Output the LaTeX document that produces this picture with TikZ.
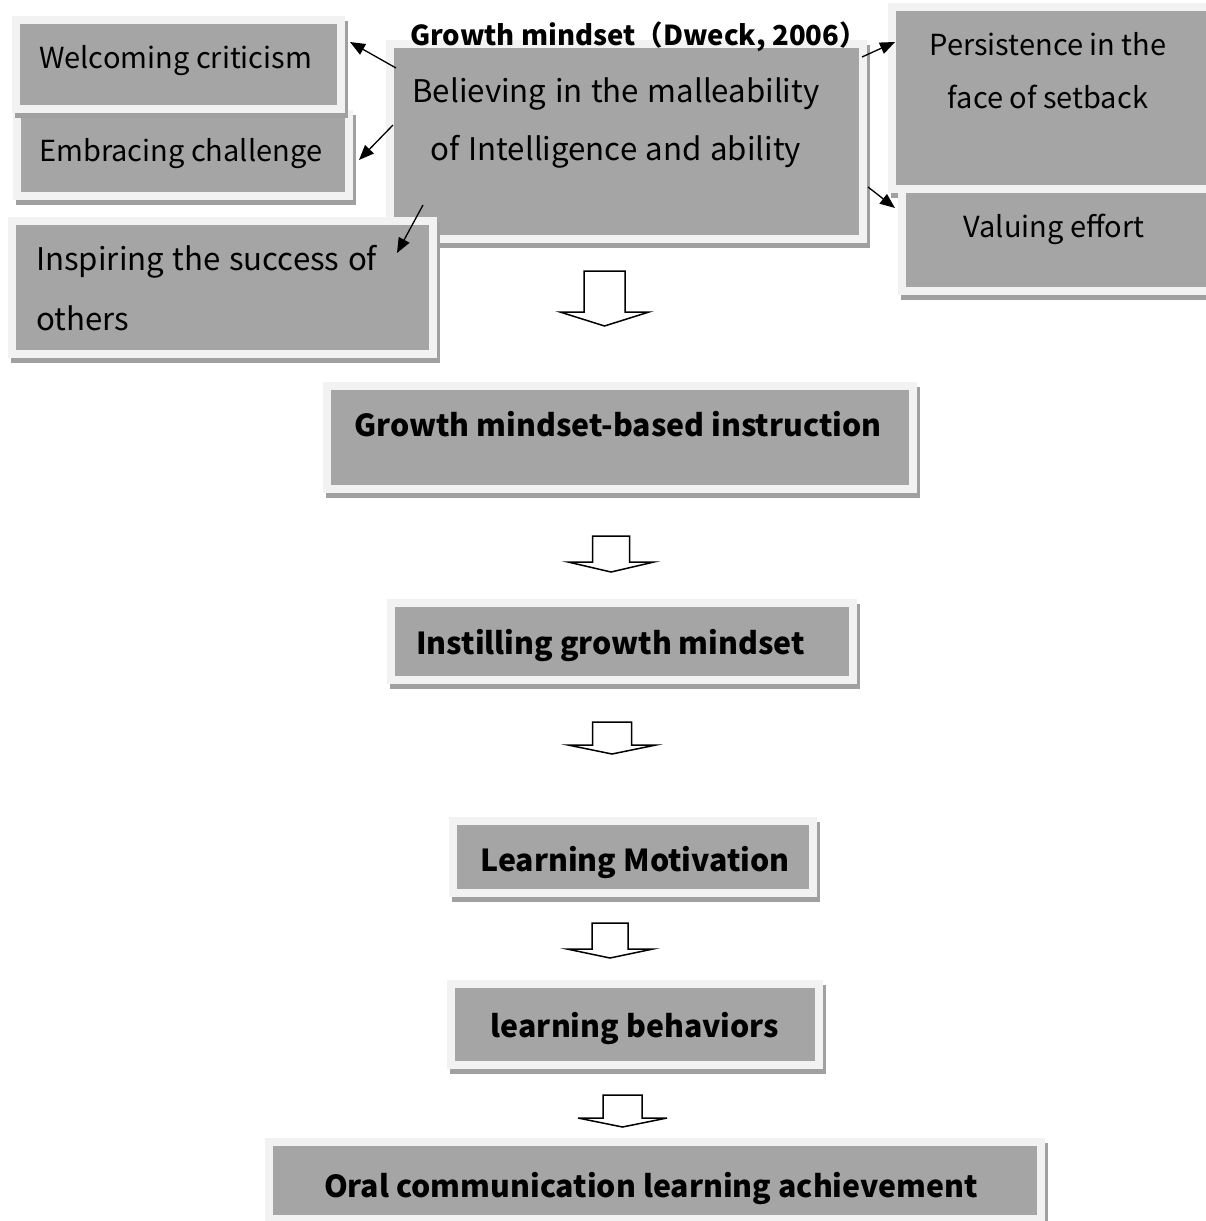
\documentclass[tikz,border=0pt]{standalone}
\usepackage{fontspec}
\setmainfont{Noto Sans CJK JP}
\usetikzlibrary{arrows.meta,calc}
\definecolor{frc}{HTML}{F2F2F2}
\definecolor{inc}{HTML}{A5A5A5}
\definecolor{shc}{HTML}{A0A0A0}
\newcommand\myreglfont{\fontsize{31.2}{37}\selectfont\setlength\spaceskip{8.5pt plus 2pt minus 2pt}}
\newcommand\mybldfont{\fontsize{30.3}{36}\selectfont\bfseries}
\newcommand\gbox[5]{%
  \fill[shc] ({#2+3},{#3+5}) rectangle ({#4+3},{#5+5});
  \fill[frc] (#2,#3) rectangle (#4,#5);
  \node[inner sep=0pt, fill=inc, minimum width={(#4-#2-16)*1pt}, minimum height={(#5-#3-16)*1pt}] (#1) at ({(#2+#4)/2},{(#3+#5)/2}) {};
}
\newcommand\harrow[7]{% name, cx, shaft half, head half, top, headY, tip
  \draw[line width=1.5pt, fill=white, line join=miter] ({#2-#3},#5) -- ({#2+#3},#5) -- ({#2+#3},#6) -- ({#2+#4},#6) -- (#2,#7) -- ({#2-#4},#6) -- ({#2-#3},#6) -- cycle;
  \coordinate (#1) at (#2,#7);
}
\tikzset{
  reg/.style={inner sep=0pt, font=\fontsize{29}{35}\selectfont},
  regl/.style={inner sep=0pt, font=\myreglfont},
  bld/.style={inner sep=0pt, font=\mybldfont},
  thin/.style={line width=1.3pt, -{Triangle[length=15pt,width=12pt]}},
}
\begin{document}
\begin{tikzpicture}[x=1pt,y=-1pt]
\useasboundingbox (0,0) rectangle (1206,1221);
\clip (0,0) rectangle (1206,1221);
% upper boxes
\gbox{emb}{13}{110}{353}{200}
\gbox{wel}{12}{16}{345}{113}
\gbox{cen}{386}{40}{867}{243}
\gbox{ins}{8}{217}{437}{358}
\gbox{per}{888}{3}{1214}{193}
\gbox{val}{898}{185}{1214}{295}
% texts
\node[reg, anchor=base west] (twel) at (39,68) {Welcoming criticism};
\node[reg, anchor=base west] (temb) at (39,161) {Embracing challenge};
\node[regl, anchor=base west] (tins1) at (36,270) {Inspiring the success of};
\node[regl, anchor=base west] (tins2) at (36,330) {others};
\node[regl, anchor=base] (tcen1) at (616,102) {Believing in the malleability};
\node[regl, anchor=base] (tcen2) at (616,160) {of Intelligence and ability};
\node[reg, anchor=base] (tper1) at (1048,55) {Persistence in the};
\node[reg, anchor=base] (tper2) at (1048,108) {face of setback};
\node[reg, anchor=base] (tval) at (1054,237) {Valuing effort};
\node[inner sep=0pt, font=\fontsize{27.5}{33}\selectfont\bfseries, anchor=base west] (title) at (410,45) {Growth mindset（Dweck, 2006）};
% thin arrows
\coordinate (s1) at (396,68);  \coordinate (e1) at (350,42);
\coordinate (s2) at (393,125); \coordinate (e2) at (359,160);
\coordinate (s3) at (423,205); \coordinate (e3) at (397,253);
\coordinate (s4) at (862,57);  \coordinate (e4) at (895,42);
\coordinate (s5) at (868,187); \coordinate (e5) at (895,208);
\draw[thin] (s1) -- (e1);
\draw[thin] (s2) -- (e2);
\draw[thin] (s3) -- (e3);
\draw[thin] (s4) -- (e4);
\draw[thin] (s5) -- (e5);
% hollow arrows
\harrow{h1}{604.5}{20.5}{44.5}{271}{312}{326}
\harrow{h2}{611}{18.5}{43}{536}{562}{572}
\harrow{h3}{612}{19.5}{44}{722}{745}{754}
\harrow{h4}{610}{18}{43}{923}{949}{958}
\harrow{h5}{622.5}{19.5}{44.5}{1095}{1118}{1127}
% lower boxes
\gbox{b1}{323}{382}{917}{493}
\gbox{b2}{387}{599}{857}{684}
\gbox{b3}{449}{817}{817}{897}
\gbox{b4}{447}{980}{823}{1069}
\gbox{b5}{265}{1138}{1045}{1223}
\node[bld, anchor=base] (t1) at (618,436) {Growth mindset-based instruction};
\node[bld, anchor=base west] (t2) at (416,654) {Instilling growth mindset};
\node[bld, anchor=base] (t3) at (635,871) {Learning Motivation};
\node[bld, anchor=base] (t4) at (635,1037) {learning behaviors};
\node[bld, anchor=base] (t5) at (651,1197) {Oral communication learning achievement};
\end{tikzpicture}
\end{document}
